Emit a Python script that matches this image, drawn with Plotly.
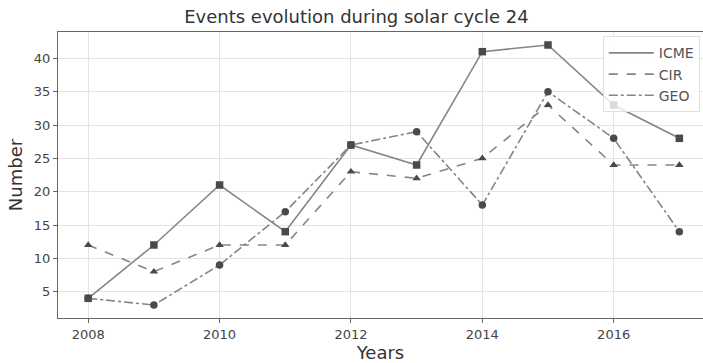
import plotly.graph_objects as go

years = [2008, 2009, 2010, 2011, 2012, 2013, 2014, 2015, 2016, 2017]
icme = [4, 12, 21, 14, 27, 24, 41, 42, 33, 28]
cir = [12, 8, 12, 12, 23, 22, 25, 33, 24, 24]
geo = [4, 3, 9, 17, 27, 29, 18, 35, 28, 14]

series = [
    ("ICME", icme, "solid", "square"),
    ("CIR", cir, "dash", "triangle-up"),
    ("GEO", geo, "dashdot", "circle"),
]

fig = go.Figure()
for name, vals, dash, symbol in series:
    fig.add_trace(go.Scatter(
        x=years, y=vals, name=name, mode="lines+markers", showlegend=False,
        line=dict(color="#858585", width=1.6, dash=dash),
        marker=dict(symbol=symbol, size=7.5, color="#4a4a4a"),
    ))
# line-only legend keys
for name, vals, dash, symbol in series:
    fig.add_trace(go.Scatter(
        x=[None], y=[None], name=name, mode="lines",
        line=dict(color="#858585", width=1.6, dash=dash),
    ))

font = "DejaVu Sans, sans-serif"
fig.update_layout(
    width=703, height=363,
    margin=dict(l=58, r=0, t=32, b=45),
    paper_bgcolor="white", plot_bgcolor="white",
    font=dict(family=font, color="#444444"),
    title=dict(text="Events evolution during solar cycle 24", x=0.507, xanchor="center",
               y=0.955, yanchor="middle", font=dict(size=18, color="#333333")),
    legend=dict(x=0.995, y=0.985, xanchor="right", yanchor="top",
                bgcolor="rgba(255,255,255,0.8)", bordercolor="#e0e0e0", borderwidth=1,
                font=dict(size=14, color="#555555"), itemwidth=45, tracegroupgap=2),
    showlegend=True,
)
fig.update_xaxes(
    range=[2007.54, 2017.36], tickvals=[2008, 2010, 2012, 2014, 2016],
    showgrid=True, gridcolor="#e4e4e4", gridwidth=1,
    showline=True, linecolor="#666666", linewidth=1, mirror=True,
    ticks="outside", ticklen=4, tickcolor="#666666",
    tickfont=dict(size=13, color="#444444"),
    title=dict(text="Years", font=dict(size=18, color="#333333"), standoff=4),
    zeroline=False,
)
fig.update_yaxes(
    range=[1.05, 43.95], tickvals=[5, 10, 15, 20, 25, 30, 35, 40],
    showgrid=True, gridcolor="#e4e4e4", gridwidth=1,
    showline=True, linecolor="#666666", linewidth=1, mirror=True,
    ticks="outside", ticklen=4, tickcolor="#666666",
    tickfont=dict(size=13, color="#444444"),
    title=dict(text="Number", font=dict(size=18, color="#333333"), standoff=6),
    zeroline=False,
)

fig.write_html("out.html")
